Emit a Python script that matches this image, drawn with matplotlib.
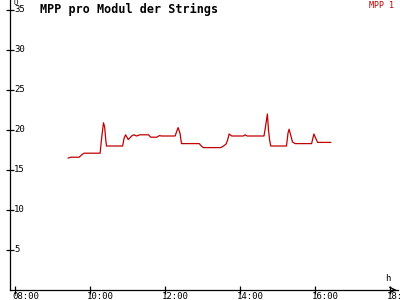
import matplotlib
matplotlib.use("Agg")
import matplotlib.pyplot as plt

# time in hours, MPP voltage per module
t = [9.42, 9.49, 9.71, 9.78, 9.84, 10.27, 10.31, 10.36, 10.39, 10.42, 10.44,
     10.87, 10.91, 10.95, 11.02, 11.11, 11.17, 11.24, 11.33, 11.56, 11.62,
     11.78, 11.85, 11.91, 12.27, 12.31, 12.35, 12.40, 12.44, 12.91, 12.97,
     13.02, 13.49, 13.56, 13.63, 13.67, 13.71, 13.78, 14.09, 14.14, 14.19,
     14.64, 14.68, 14.73, 14.76, 14.79, 14.82, 15.24, 15.28, 15.31, 15.35,
     15.40, 15.47, 15.91, 15.97, 16.02, 16.07, 16.42]
u = [16.5, 16.6, 16.6, 16.9, 17.1, 17.1, 19.0, 20.9, 20.4, 18.8, 18.0,
     18.0, 19.0, 19.4, 18.8, 19.25, 19.4, 19.25, 19.4, 19.4, 19.1,
     19.1, 19.3, 19.25, 19.25, 19.8, 20.3, 19.6, 18.3, 18.3, 18.0,
     17.8, 17.8, 18.0, 18.25, 18.75, 19.5, 19.25, 19.25, 19.4, 19.25,
     19.25, 20.4, 22.0, 20.0, 18.75, 18.0, 18.0, 19.6, 20.1, 19.4,
     18.5, 18.3, 18.3, 19.5, 18.96, 18.45, 18.45]

yticks = [5, 10, 15, 20, 25, 30, 35]
xticks = [8, 10, 12, 14, 16, 18]
xlabels = ["08:00", "10:00", "12:00", "14:00", "16:00", "18:00"]

red = "#c00000"
mono = "DejaVu Sans Mono"

fig = plt.figure(figsize=(4, 3), dpi=100)
ax = fig.add_axes([0, 0, 1, 1])
x0 = 7.867
ax.set_xlim(7.6, 18.267)
ax.set_ylim(-1.25, 36.25)

ax.plot(t, u, color=red, lw=0.9)

for s in ["top", "right"]:
    ax.spines[s].set_visible(False)
ax.spines["left"].set_position(("data", x0))
ax.spines["bottom"].set_position(("data", 0))
ax.spines["left"].set_bounds(0, 36.25)
ax.spines["bottom"].set_bounds(x0, 18.21)
ax.spines["left"].set_linewidth(0.9)
ax.spines["bottom"].set_linewidth(0.9)
ax.set_xticks(xticks)
ax.set_yticks(yticks)
ax.set_xticklabels([])
ax.set_yticklabels([])
ax.tick_params(direction="inout", length=6, width=0.9)

for v in yticks:
    ax.text(7.98, v, str(v), fontsize=6.5, family=mono, ha="left", va="center")
for x, lab in zip(xticks, xlabels):
    ax.text(x - 0.08, -1.1, lab, fontsize=6.5, family=mono, ha="left",
            va="baseline")

# axis arrows
ax.annotate("", xy=(x0, 36.4), xytext=(x0, 35.0),
            arrowprops=dict(arrowstyle="->", lw=0.9, color="black"))
ax.annotate("", xy=(18.25, 0), xytext=(18.0, 0),
            arrowprops=dict(arrowstyle="->", lw=0.9, color="black"))
ax.text(7.97, 36.25, "U", fontsize=5, family=mono, ha="left", va="top")
ax.text(17.88, 0.9, "h", fontsize=6.5, family=mono, ha="left", va="bottom")

fig.text(0.1, 0.99, "MPP pro Modul der Strings", fontsize=8.5, family=mono,
         weight="bold", ha="left", va="top")
fig.text(0.985, 0.995, "MPP 1", fontsize=6, family=mono, color=red,
         ha="right", va="top")

fig.savefig("out.png", dpi=100)
